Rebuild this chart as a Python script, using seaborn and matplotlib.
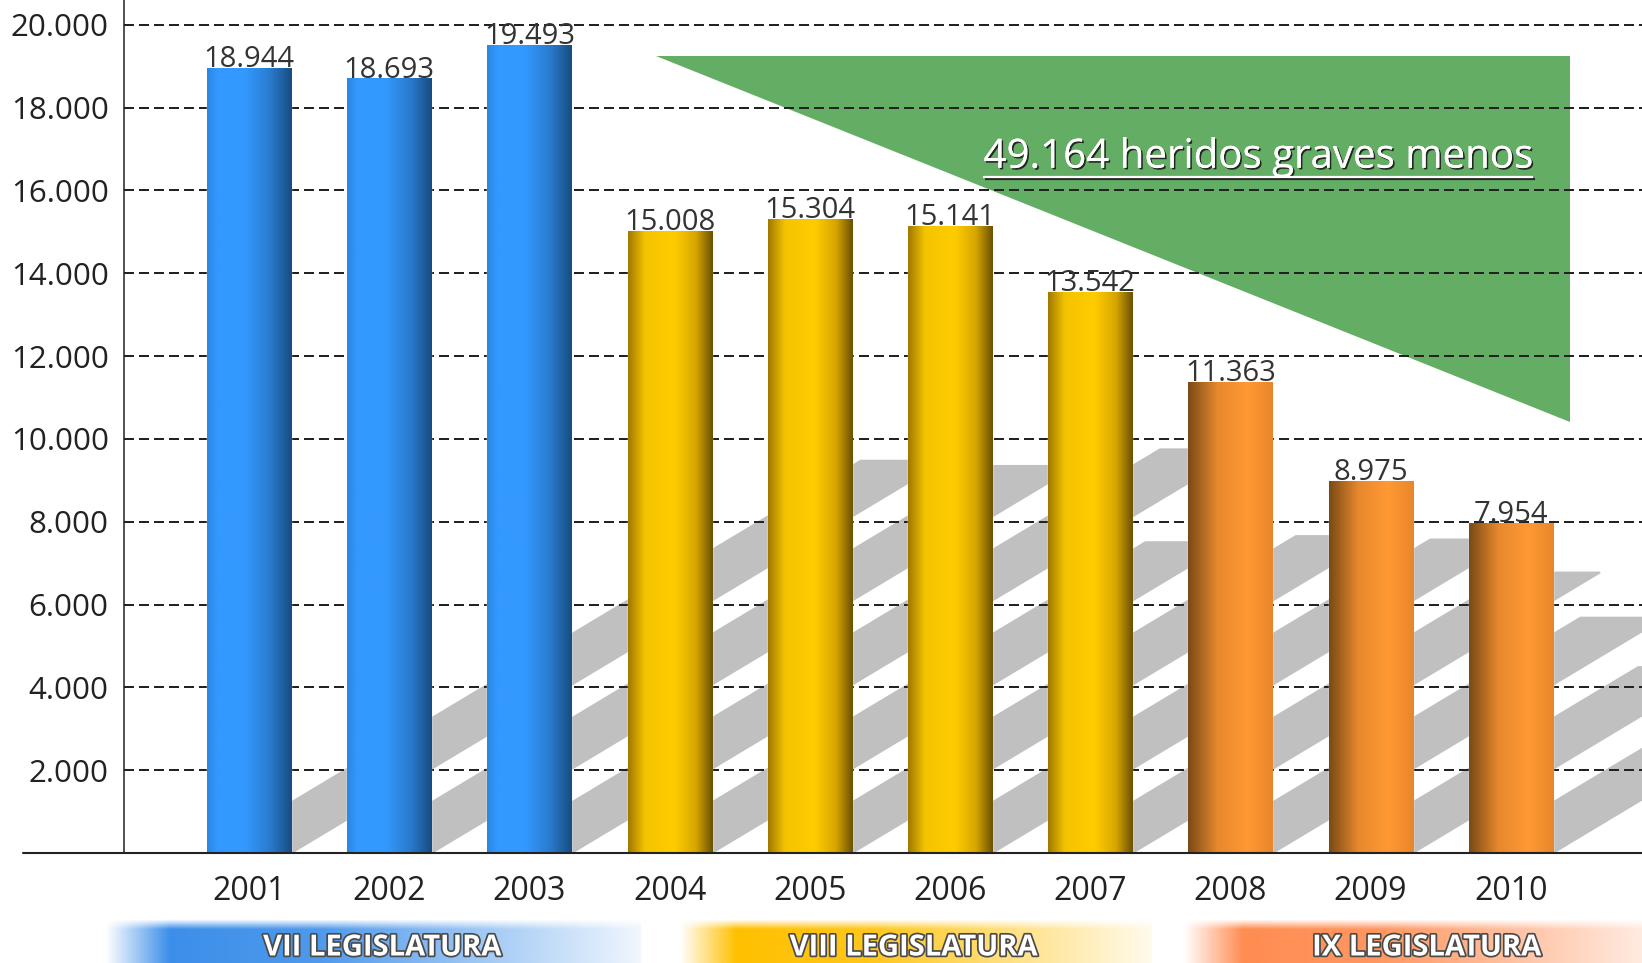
import numpy as np
import pandas as pd
import matplotlib
matplotlib.use('Agg')
import matplotlib.pyplot as plt
import matplotlib.patheffects as pe
from matplotlib.colors import LinearSegmentedColormap, to_rgb
from matplotlib.patches import Polygon
import seaborn as sns

# Data
years = ['2001', '2002', '2003', '2004', '2005', '2006', '2007', '2008', '2009', '2010']
heridos_graves = [18944, 18693, 19493, 15008, 15304, 15141, 13542, 11363, 8975, 7954]
legislatura = ['VII', 'VII', 'VII', 'VIII', 'VIII', 'VIII', 'VIII', 'IX', 'IX', 'IX']
legislatura_order = ['VII', 'VIII', 'IX']
legislatura_labels = ['VII LEGISLATURA', 'VIII LEGISLATURA', 'IX LEGISLATURA']
y_ticks = [2000, 4000, 6000, 8000, 10000, 12000, 14000, 16000, 18000, 20000]
reduccion_label = '49.164 heridos graves menos'
triangulo_max = 19250
triangulo_min = 10400

# Styling
W, H, DPI = 1642, 963, 100
BASE_COLORS = {'VII': '#3399ff', 'VIII': '#ffcc00', 'IX': '#ff9933'}
BAR_CMAPS = {
    'VII': LinearSegmentedColormap.from_list('vii', [
        (0.0, '#2c86e2'), (0.12, '#3399ff'), (0.45, '#3399ff'), (0.75, '#2a7acc'), (1.0, '#174c80')]),
    'VIII': LinearSegmentedColormap.from_list('viii', [
        (0.0, '#a07800'), (0.2, '#f5c400'), (0.55, '#ffcc00'), (0.8, '#d6a600'), (1.0, '#6b5000')]),
    'IX': LinearSegmentedColormap.from_list('ix', [
        (0.0, '#7a4a15'), (0.35, '#e8892e'), (0.7, '#ff9933'), (1.0, '#e8862a')]),
}
BAND_COLORS = {'VII': '#3b8eea', 'VIII': '#ffc000', 'IX': '#ff8c50'}
BAND_SPANS = {'VII': (-1.03, 2.79), 'VIII': (3.07, 6.44), 'IX': (6.66, 10.2)}
BAND_TEXT_X = {'VII': 0.95, 'VIII': 4.74, 'IX': 8.4}
SHADOW_RATIO = 0.5
SHADOW_SLOPE = 0.6

sns.set_style('white')
plt.rcParams['font.family'] = ['Open Sans', 'DejaVu Sans']


def fmt(v):
    return f'{v:,}'.replace(',', '.')


fig = plt.figure(figsize=(W / DPI, H / DPI), dpi=DPI)
ax = fig.add_axes([124 / W, 110 / H, 1 - 124 / W, 853 / H])

df = pd.DataFrame({'year': years, 'value': heridos_graves, 'leg': legislatura})
sns.barplot(data=df, x='year', y='value', hue='leg', hue_order=legislatura_order,
            palette=BASE_COLORS, dodge=False, width=0.6, saturation=1,
            legend=False, ax=ax, zorder=2)

XLIM = (-0.892, 9.936)
YLIM = (0, 20600)
ax.set_xlim(XLIM)
ax.set_ylim(YLIM)
ax.set_xlabel('')
ax.set_ylabel('')

for side in ['top', 'right', 'bottom']:
    ax.spines[side].set_visible(False)
ax.spines['left'].set_color('#222222')
ax.spines['left'].set_linewidth(1.1)

ax.set_yticks(y_ticks)
ax.set_yticklabels([fmt(t) for t in y_ticks])
ax.tick_params(axis='y', length=0, pad=11, labelsize=22.5, labelcolor='#222222')
ax.tick_params(axis='x', length=0, pad=16, labelsize=23, labelcolor='#222222')

ax.yaxis.grid(True, color='#222222', linestyle=(0, (5, 2.5)), linewidth=1.44)
ax.xaxis.grid(False)
ax.set_axisbelow(True)

# baseline, running a bit to the left of the y axis
ax.plot([-(124 - 23) / (W - 124), 1], [0, 0], transform=ax.transAxes,
        color='#222222', lw=1.5, clip_on=False, zorder=3)

# pixel scale of the data axes
p0 = ax.transData.transform((0, 0))
p1 = ax.transData.transform((1, 1))
px_x, px_y = p1[0] - p0[0], p1[1] - p0[1]

bars = [p for p in ax.patches if p.get_height() > 0]
for p in bars:
    x0, w, h = p.get_x(), p.get_width(), p.get_height()
    i = int(round(x0 + w / 2))
    # cylinder-like shading
    grad = BAR_CMAPS[legislatura[i]](np.linspace(0, 1, 256))[None, :, :]
    ax.imshow(grad, extent=(x0, x0 + w, 0, h), aspect='auto',
              interpolation='bicubic', zorder=2.1)
    # cast shadow behind the bar
    dy = SHADOW_RATIO * h
    dx = (dy * px_y / SHADOW_SLOPE) / px_x
    ax.add_patch(Polygon([(x0, 0), (x0 + w, 0), (x0 + w + dx, dy), (x0 + dx, dy)],
                         closed=True, facecolor='#c0c0c0', edgecolor='#c0c0c0',
                         lw=1.5, joinstyle='round', zorder=0.3))
    ax.annotate(fmt(heridos_graves[i]), (x0 + w / 2, h), xytext=(0, 1),
                textcoords='offset points', ha='center', va='baseline',
                fontsize=21, color='#333333', zorder=4)

# green reduction triangle
ax.add_patch(Polygon([(2.9, triangulo_max), (9.42, triangulo_max), (9.42, triangulo_min)],
                     closed=True, facecolor='#64ad64', edgecolor='none', zorder=0.4))
txt = ax.text(7.2, 16550, reduccion_label, ha='center', va='baseline', fontsize=29,
              color='white', zorder=5,
              path_effects=[pe.withSimplePatchShadow(offset=(1.2, -1.2), shadow_rgbFace='#1a1a1a', alpha=0.9),
                            pe.Normal()])

ax.set_xlim(XLIM)
ax.set_ylim(YLIM)

fig.canvas.draw()
bb = txt.get_window_extent()
ux = ax.transData.inverted().transform([(bb.x0, 0), (bb.x1, 0)])[:, 0]
uy = 16550 - 9 / px_y
ax.plot(ux, [uy, uy], color='white', lw=1.6, solid_capstyle='butt', zorder=5,
        path_effects=[pe.SimpleLineShadow(offset=(1, -1.5), shadow_color='#1a1a1a', alpha=0.9),
                      pe.Normal()])
ax.set_xlim(XLIM)
ax.set_ylim(YLIM)

# legislature bands at the bottom
bax = fig.add_axes([0, 0, 1, 110 / H])
xl = ax.transData.inverted().transform([(0, 0), (W, 0)])[:, 0]
bax.set_xlim(xl)
bax.set_ylim(0, 110)
bax.axis('off')
bax.patch.set_alpha(0)

band_top = 44
for leg, label in zip(legislatura_order, legislatura_labels):
    x0, x1 = BAND_SPANS[leg]
    t = np.linspace(0, 1, 300)
    ax_alpha = np.interp(t, [0, 0.12, 0.4, 1], [0, 1, 0.9, 0.08])
    yy = np.linspace(0, band_top, 60)
    ay_alpha = np.interp(yy, [0, band_top - 10, band_top], [1, 1, 0])
    img = np.zeros((60, 300, 4))
    img[..., :3] = to_rgb(BAND_COLORS[leg])
    img[..., 3] = ay_alpha[:, None] * ax_alpha[None, :]
    bax.imshow(img, extent=(x0, x1, 0, band_top), origin='lower', aspect='auto',
               interpolation='bilinear', zorder=1)
    bax.text(BAND_TEXT_X[leg], 15, label, ha='center', va='center', color='white',
             fontsize=21, fontweight='bold', zorder=2,
             path_effects=[pe.withStroke(linewidth=2.5, foreground='#4a4a4a')])
bax.set_xlim(xl)
bax.set_ylim(0, 110)

fig.savefig('out.png', dpi=DPI)
